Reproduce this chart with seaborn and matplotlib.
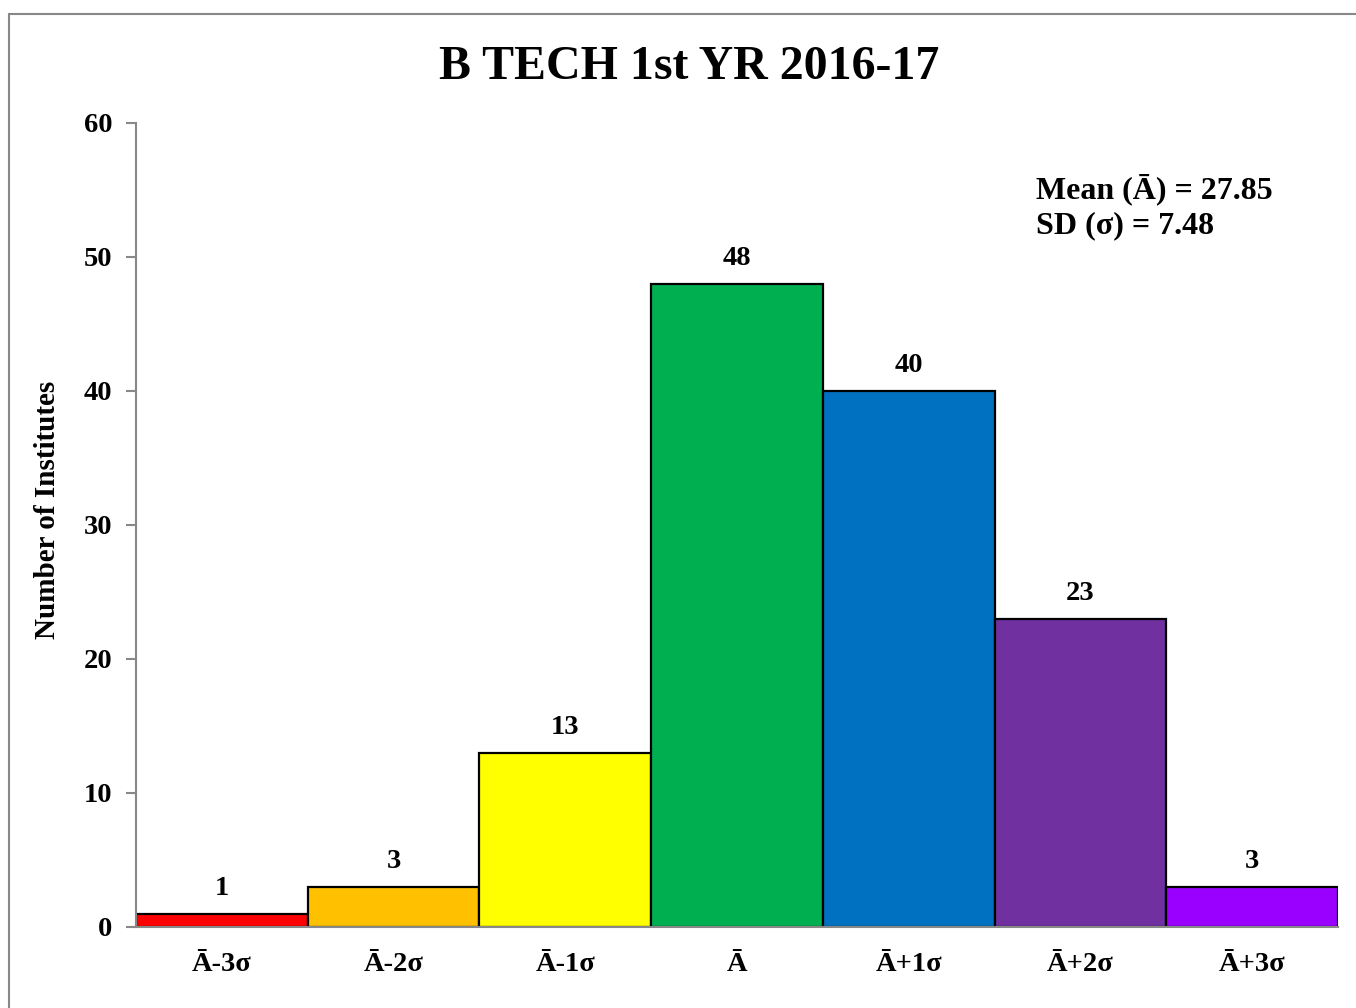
import pandas as pd
import seaborn as sns
import matplotlib.pyplot as plt
from matplotlib.lines import Line2D

# Chart data
categories = ['Ā-3σ', 'Ā-2σ', 'Ā-1σ', 'Ā', 'Ā+1σ', 'Ā+2σ', 'Ā+3σ']
counts = [1, 3, 13, 48, 40, 23, 3]
bar_colors = ['#FF0000', '#FFC000', '#FFFF00', '#00B050', '#0070C0', '#7030A0', '#9900FF']
y_ticks = [0, 10, 20, 30, 40, 50, 60]
title = 'B TECH 1st YR 2016-17'
y_label = 'Number of Institutes'
stats_text = 'Mean (Ā) = 27.85\nSD (σ) = 7.48'

df = pd.DataFrame({'band': categories, 'count': counts})

sns.set_style('white')
plt.rcParams['font.family'] = ['Liberation Serif', 'DejaVu Serif']
plt.rcParams['font.weight'] = 'bold'
plt.rcParams['text.color'] = 'black'
plt.rcParams['xtick.labelcolor'] = 'black'
plt.rcParams['ytick.labelcolor'] = 'black'
plt.rcParams['axes.labelcolor'] = 'black'

fig = plt.figure(figsize=(13.56, 10.08), dpi=100)
ax = fig.add_axes([136 / 1356, 1 - 927 / 1008, (1338 - 136) / 1356, (927 - 123) / 1008])

sns.barplot(data=df, x='band', y='count', hue='band', palette=bar_colors,
            width=1.0, edgecolor='black', linewidth=1.6, legend=False,
            saturation=1, ax=ax)

for cont in ax.containers:
    ax.bar_label(cont, fontsize=20.5, fontweight='bold', padding=9, color='black')

ax.set_xlim(-0.5, len(categories) - 0.5)
ax.set_ylim(0, 60)
ax.set_yticks(y_ticks)
ax.set_xlabel('')
ax.set_ylabel(y_label, fontsize=21, fontweight='bold', color='black')
ax.yaxis.set_label_coords(-0.062, 0.519)

# tick marks at bar edges, labels centred on bars
ax.set_xticks([i - 0.5 for i in range(len(categories) + 1)], minor=True)
ax.tick_params(axis='x', which='major', length=0, pad=18, labelsize=20.5,
               labelcolor='black')
ax.tick_params(axis='x', which='minor', length=7, width=1.5, color='#888888')
ax.tick_params(axis='y', length=7, width=1.5, color='#888888', pad=10, labelsize=20.5,
               left=True, labelcolor='black')
for lbl in ax.get_xticklabels() + ax.get_yticklabels():
    lbl.set_fontweight('bold')

sns.despine(ax=ax)
for side in ['left', 'bottom']:
    ax.spines[side].set_color('#888888')
    ax.spines[side].set_linewidth(1.5)

ax.text(0.749, 0.937, stats_text, transform=ax.transAxes, fontsize=23,
        fontweight='bold', va='top', ha='left', linespacing=1.25, color='black')

fig.suptitle(title, x=0.508, y=0.955, fontsize=34.5, fontweight='bold', color='black')

# chart area border (top and left visible in the picture)
fig.add_artist(Line2D([9 / 1356, 9 / 1356], [0, 1 - 14 / 1008], transform=fig.transFigure,
                      color='#888888', linewidth=1.5))
fig.add_artist(Line2D([9 / 1356, 1], [1 - 14 / 1008, 1 - 14 / 1008], transform=fig.transFigure,
                      color='#888888', linewidth=1.5))

fig.savefig('out.png', dpi=100)
